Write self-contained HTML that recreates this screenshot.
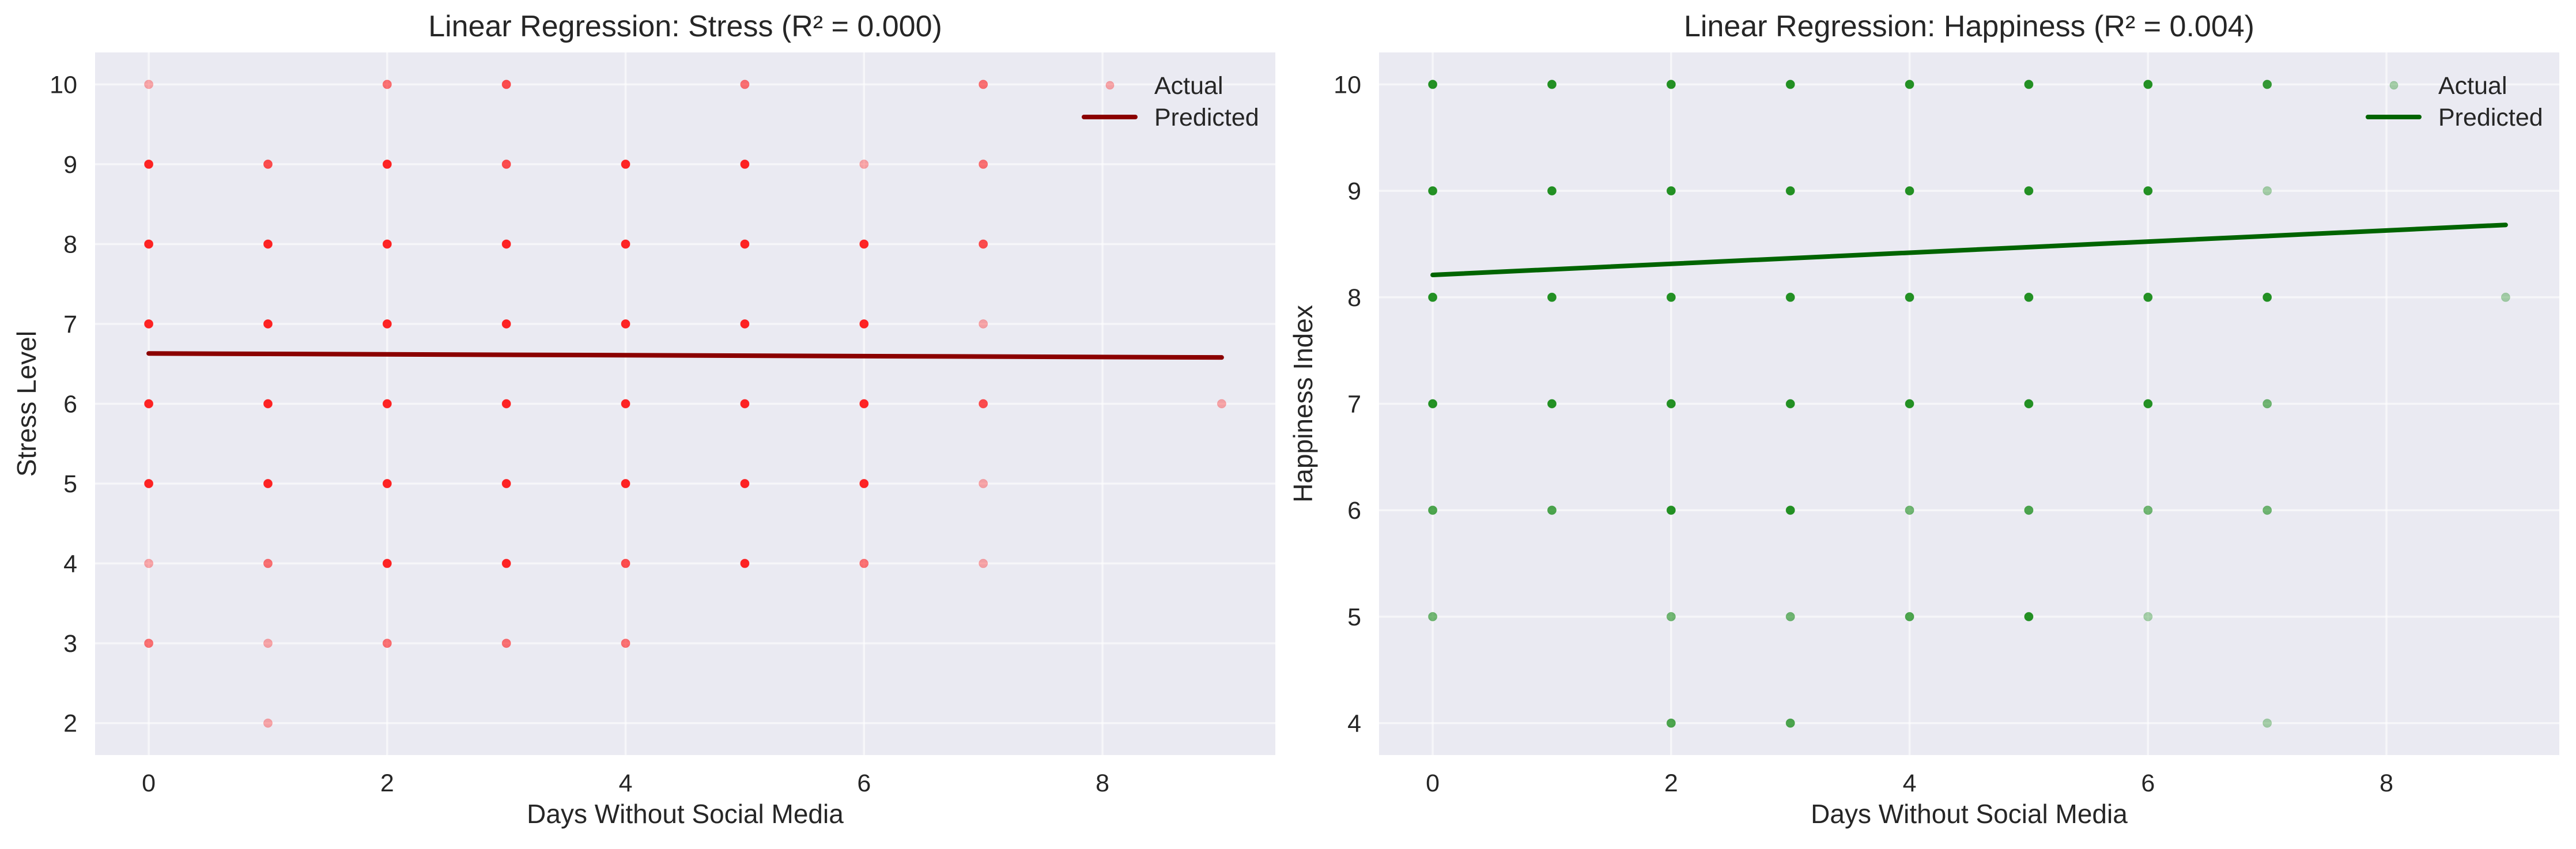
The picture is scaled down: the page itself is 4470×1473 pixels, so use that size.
<!DOCTYPE html>
<html><head><meta charset="utf-8"><style>
html,body{margin:0;padding:0;background:#fff;}
svg text{font-family:"Liberation Sans",Arial,sans-serif;fill:#262626;}
</style></head><body>
<svg id="fig" width="4470" height="1468" viewBox="0 0 4470 1468" xmlns="http://www.w3.org/2000/svg"></svg>
<script>
// ---- data ----
const xTicks = [0, 2, 4, 6, 8];
const stressTicks = [2, 3, 4, 5, 6, 7, 8, 9, 10];
const happyTicks = [4, 5, 6, 7, 8, 9, 10];
// stress points: x, y, overlap count
const stressX = [0,0,0,0,0,0,0,0, 1,1,1,1,1,1,1,1, 2,2,2,2,2,2,2,2, 3,3,3,3,3,3,3,3, 4,4,4,4,4,4,4, 5,5,5,5,5,5,5, 6,6,6,6,6,6, 7,7,7,7,7,7,7, 9];
const stressY = [10,9,8,7,6,5,4,3, 9,8,7,6,5,4,3,2, 10,9,8,7,6,5,4,3, 10,9,8,7,6,5,4,3, 9,8,7,6,5,4,3, 10,9,8,7,6,5,4, 9,8,7,6,5,4, 10,9,8,7,6,5,4, 6];
const stressN = [1,5,5,5,5,5,1,2, 3,5,5,5,5,2,1,1, 2,5,5,5,5,5,5,2, 3,3,5,5,5,5,5,2, 5,5,5,5,5,3,2, 2,5,5,5,5,5,5, 1,5,5,5,5,2, 2,2,3,1,3,1,1, 1];
const stressPred = [6.63, 6.58]; // at x=0 and x=9
const happyX = [0,0,0,0,0,0, 1,1,1,1,1, 2,2,2,2,2,2,2, 3,3,3,3,3,3,3, 4,4,4,4,4,4, 5,5,5,5,5,5, 6,6,6,6,6,6, 7,7,7,7,7,7, 9];
const happyY = [10,9,8,7,6,5, 10,9,8,7,6, 10,9,8,7,6,5,4, 10,9,8,7,6,5,4, 10,9,8,7,6,5, 10,9,8,7,6,5, 10,9,8,7,6,5, 10,9,8,7,6,4, 8];
const happyN = [5,5,5,5,3,2, 5,5,5,5,3, 5,5,5,5,5,2,3, 5,5,5,5,5,2,3, 5,5,5,5,2,3, 5,5,5,5,3,5, 5,5,5,5,2,1, 4,1,5,2,2,1, 1];
const happyPred = [8.21, 8.68];

const NS = 'http://www.w3.org/2000/svg';
const svg = document.getElementById('fig');
function mk(tag, attrs, parent) {
  const e = document.createElementNS(NS, tag);
  for (const k in attrs) e.setAttribute(k, attrs[k]);
  (parent || svg).appendChild(e);
  return e;
}

function panel(o) {
  const g = mk('g', {});
  
  
  const L = o.left, R = o.right, T = 91, B = 1310;
  const xmin = -0.45, xmax = 9.45;
  const sx = v => L + (v - xmin) / (xmax - xmin) * (R - L);
  const sy = v => B - (v - o.ymin) / (o.ymax - o.ymin) * (B - T);
  const bg = mk('rect', {x: L, y: T, width: R - L, height: B - T, fill: '#eaeaf2'}, g);
  
  
  xTicks.forEach(t => {
    const l = mk('line', {x1: sx(t), x2: sx(t), y1: T, y2: B, stroke: '#fff', 'stroke-width': 3.5, opacity: 0.6}, g);
    
    
    const tx = mk('text', {x: sx(t), y: 1373, 'font-size': 43, 'text-anchor': 'middle'}, g);
    tx.textContent = t;
    
    
  });
  o.ticks.forEach(t => {
    const l = mk('line', {x1: L, x2: R, y1: sy(t), y2: sy(t), stroke: '#fff', 'stroke-width': 3.5, opacity: 0.6}, g);
    
    
    const tx = mk('text', {x: L - 31, y: sy(t) + 15, 'font-size': 43, 'text-anchor': 'end'}, g);
    tx.textContent = t;
    
    
  });
  o.xs.forEach((xv, i) => {
    const a = 1 - Math.pow(0.68, o.ns[i]);
    const c = mk('circle', {cx: sx(xv), cy: sy(o.ys[i]), r: 7.5, fill: o.color, 'fill-opacity': a, stroke: o.color, 'stroke-opacity': a * 0.6, 'stroke-width': 1}, g);
    
    
  });
  const pl = mk('line', {x1: sx(0), y1: sy(o.pred[0]), x2: sx(9), y2: sy(o.pred[1]), stroke: o.lineColor, 'stroke-width': 8, 'stroke-linecap': 'round'}, g);
  
  
  const title = mk('text', {x: (L + R) / 2, y: 63, 'font-size': 52, 'text-anchor': 'middle'}, g);
  title.textContent = o.title;
  
  
  const xl = mk('text', {x: (L + R) / 2, y: 1428, 'font-size': 46, 'text-anchor': 'middle'}, g);
  xl.textContent = 'Days Without Social Media';
  
  
  const yl = mk('text', {x: 0, y: 0, 'font-size': 46, 'text-anchor': 'middle', transform: `translate(${o.ylx},${(T + B) / 2}) rotate(-90)`}, g);
  yl.textContent = o.ylabel;
  
  
  // legend
  const lg = mk('g', {}, g);
  
  
  const lm = mk('circle', {cx: R - 287, cy: 148, r: 7, fill: o.color, 'fill-opacity': 0.32, stroke: o.color, 'stroke-opacity': 0.2}, lg);
  
  
  const lt = mk('text', {x: R - 210, y: 163, 'font-size': 43}, lg);
  lt.textContent = 'Actual';
  
  
  const ll = mk('line', {x1: R - 332, x2: R - 243, y1: 203, y2: 203, stroke: o.lineColor, 'stroke-width': 8, 'stroke-linecap': 'round'}, lg);
  
  
  const lt2 = mk('text', {x: R - 210, y: 218, 'font-size': 43}, lg);
  lt2.textContent = 'Predicted';
  
  
}

panel({name: 'stress-chart', left: 165, right: 2213, ymin: 1.6, ymax: 10.4, ticks: stressTicks,
  xs: stressX, ys: stressY, ns: stressN, pred: stressPred, color: '#ff0000', lineColor: '#8b0000',
  title: 'Linear Regression: Stress (R² = 0.000)', ylabel: 'Stress Level', ylx: 62});
panel({name: 'happiness-chart', left: 2393, right: 4441, ymin: 3.7, ymax: 10.3, ticks: happyTicks,
  xs: happyX, ys: happyY, ns: happyN, pred: happyPred, color: '#008000', lineColor: '#006400',
  title: 'Linear Regression: Happiness (R² = 0.004)', ylabel: 'Happiness Index', ylx: 2277});
</script>
</body></html>
